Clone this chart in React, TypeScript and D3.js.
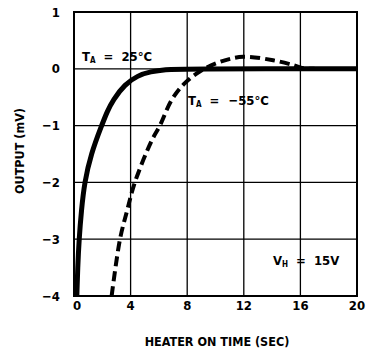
import React from "react";
import * as d3 from "d3";

const xTicks = [0, 4, 8, 12, 16, 20];
const yTicks = [1, 0, -1, -2, -3, -4];

// T_A = 25°C (solid)
const warmTime = [0.2, 0.26, 0.36, 0.52, 0.74, 1.2, 1.95, 2.35, 2.75, 3.6, 4.5, 5.4, 6.5, 7.5, 20];
const warmOut = [-4, -3.5, -3.0, -2.5, -2.0, -1.5, -1.0, -0.75, -0.55, -0.27, -0.12, -0.05, -0.01, 0, 0];

// T_A = -55°C (dashed)
const coldTime = [2.66, 3.25, 3.75, 4.3, 5.48, 6.07, 6.9, 7.8, 9.0, 10.3, 11.95, 14.07, 15.5, 16.2, 17];
const coldOut = [-4, -3, -2.5, -2, -1.27, -1, -0.55, -0.26, -0.03, 0.12, 0.21, 0.15, 0.065, 0.01, 0];

const FONT = "'Liberation Sans Narrow', 'DejaVu Sans Condensed', 'Arial Narrow', sans-serif";

export default function App() {
  const W = 374, H = 356;
  const x = d3.scaleLinear().domain([0, 20]).range([74, 357]);
  const y = d3.scaleLinear().domain([-4, 1]).range([296, 12]);
  const warmLine = d3.line<[number, number]>().x(d => x(d[0])).y(d => y(d[1])).curve(d3.curveBasis);
  const coldLine = d3.line<[number, number]>().x(d => x(d[0])).y(d => y(d[1])).curve(d3.curveCatmullRom.alpha(0.5));
  const warm = warmLine(warmTime.map((t, i) => [t, warmOut[i]]) as [number, number][]) || "";
  const cold = coldLine(coldTime.map((t, i) => [t, coldOut[i]]) as [number, number][]) || "";
  const fs = 13;
  return (
    <svg width={W} height={H} style={{ position: "absolute", left: 0, top: 0, background: "#fff" }}
      fontFamily={FONT} fontWeight="bold">
      <rect x={0} y={0} width={W} height={H} fill="#fff" />
      {xTicks.map(t => (
        <line key={"gx" + t} x1={x(t)} x2={x(t)} y1={y(1)} y2={y(-4)} stroke="#000" strokeWidth={1.3} />
      ))}
      {yTicks.map(t => (
        <line key={"gy" + t} x1={x(0)} x2={x(20)} y1={y(t)} y2={y(t)} stroke="#000" strokeWidth={1.3} />
      ))}
      <rect x={x(0)} y={y(1)} width={x(20) - x(0)} height={y(-4) - y(1)} fill="none" stroke="#000" strokeWidth={2} />
      {yTicks.map(t => (
        <text key={"ty" + t} x={60} y={y(t)} dy="0.35em" textAnchor="end" fontSize={fs}>
          {t < 0 ? "\u2212" + Math.abs(t) : t}
        </text>
      ))}
      {xTicks.map(t => (
        <text key={"tx" + t} x={x(t) + (t === 0 ? 3 : 0)} y={310} textAnchor="middle" fontSize={fs}>
          {t}
        </text>
      ))}
      <text x={217} y={346} textAnchor="middle" fontSize={12.5}>HEATER ON TIME (SEC)</text>
      <text transform="translate(24,151) rotate(-90)" textAnchor="middle" fontSize={12.5}>OUTPUT (mV)</text>

      <path d={warm} fill="none" stroke="#000" strokeWidth={5} strokeLinejoin="round" />
      <path d={cold} fill="none" stroke="#000" strokeWidth={4} strokeDasharray="10,5" />

      <text x={82} y={61} fontSize={fs}>
        T<tspan fontSize={8} dy={2}>A</tspan><tspan dy={-2} dx={8}>=</tspan><tspan dx={8}>25°C</tspan>
      </text>
      <text x={188} y={105} fontSize={fs}>
        T<tspan fontSize={8} dy={2}>A</tspan><tspan dy={-2} dx={8}>=</tspan><tspan dx={9}>{"\u221255°C"}</tspan>
      </text>
      <text x={273} y={265} fontSize={fs}>
        V<tspan fontSize={8} dy={2}>H</tspan><tspan dy={-2} dx={8}>=</tspan><tspan dx={8}>15V</tspan>
      </text>
    </svg>
  );
}
